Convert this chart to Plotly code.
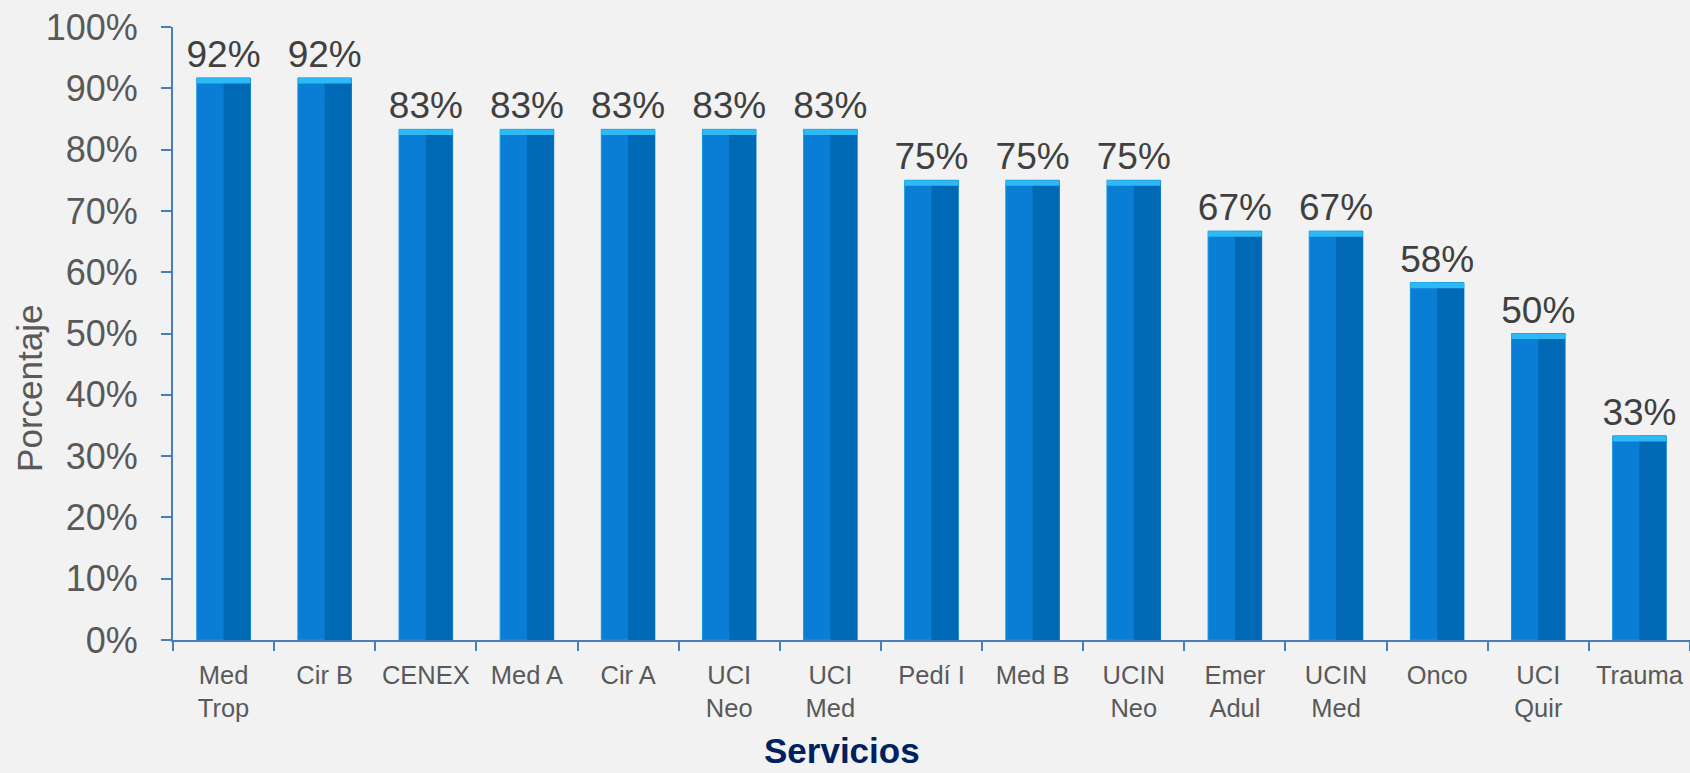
import plotly.graph_objects as go

categories = ["Med<br>Trop", "Cir B", "CENEX", "Med A", "Cir A", "UCI<br>Neo", "UCI<br>Med",
              "Pedí I", "Med B", "UCIN<br>Neo", "Emer<br>Adul", "UCIN<br>Med", "Onco",
              "UCI<br>Quir", "Trauma"]
values = [0.917, 0.917, 0.833, 0.833, 0.833, 0.833, 0.833, 0.75, 0.75, 0.75,
          0.667, 0.667, 0.583, 0.50, 0.333]
y_ticks = [0, 0.1, 0.2, 0.3, 0.4, 0.5, 0.6, 0.7, 0.8, 0.9, 1.0]

FONT = "Liberation Sans, Arial, sans-serif"
BAR_W = 0.53
CAP = 0.009

fig = go.Figure()
fig.add_trace(go.Bar(
    x=categories, y=values, width=BAR_W, offset=-BAR_W / 2,
    marker=dict(color="#0A7ED4", line=dict(color="#1596DC", width=1)),
    texttemplate="%{y:.0%}", textposition="outside", cliponaxis=False,
    constraintext="none",
    textfont=dict(size=37, color="#404040", family=FONT),
    hoverinfo="skip", showlegend=False,
))
fig.add_trace(go.Bar(
    x=categories, y=values, width=BAR_W / 2, offset=0,
    marker=dict(color="#0069B5", line=dict(width=0)),
    hoverinfo="skip", showlegend=False,
))
fig.add_trace(go.Bar(
    x=categories, y=[CAP] * len(values), base=[v - CAP for v in values],
    width=BAR_W, offset=-BAR_W / 2,
    marker=dict(color="#2DB9F6", line=dict(width=0)),
    hoverinfo="skip", showlegend=False,
))

fig.update_layout(
    width=1690, height=773,
    barmode="overlay",
    paper_bgcolor="#F2F2F2", plot_bgcolor="#F2F2F2",
    margin=dict(l=173, r=0, t=27, b=133),
    font=dict(family=FONT, color="#595959"),
    annotations=[
        dict(text="Porcentaje", xref="paper", yref="paper", x=-0.095, y=0.5 - (388 - 333.5) / 613,
             xanchor="center", yanchor="middle", textangle=-90, showarrow=False,
             font=dict(size=35, color="#595959", family=FONT)),
        dict(text="<b>Servicios</b>", xref="paper", yref="paper", x=0.441, y=-0.181,
             xanchor="center", yanchor="middle", showarrow=False,
             font=dict(size=35, color="#002060", family=FONT)),
    ],
)

fig.update_yaxes(
    range=[0, 1], tickvals=y_ticks, tickformat=".0%",
    showgrid=False, zeroline=False,
    showline=True, linecolor="#4A7EBB", linewidth=2,
    ticks="outside", ticklen=10, tickcolor="#4A7EBB", tickwidth=2,
    tickfont=dict(size=36, color="#595959", family=FONT),
    ticklabelstandoff=16,
)
fig.update_xaxes(
    showgrid=False, zeroline=False,
    showline=True, linecolor="#4A7EBB", linewidth=2,
    ticks="outside", ticklen=9, tickcolor="#4A7EBB", tickwidth=2,
    tickson="boundaries",
    tickfont=dict(size=25.5, color="#595959", family=FONT),
    tickangle=0, ticklabelstandoff=11,
)

fig.write_html(
    "out.html",
    config={"displayModeBar": False},
    post_script="document.body.style.margin='0';document.body.style.background='#F2F2F2';",
)
